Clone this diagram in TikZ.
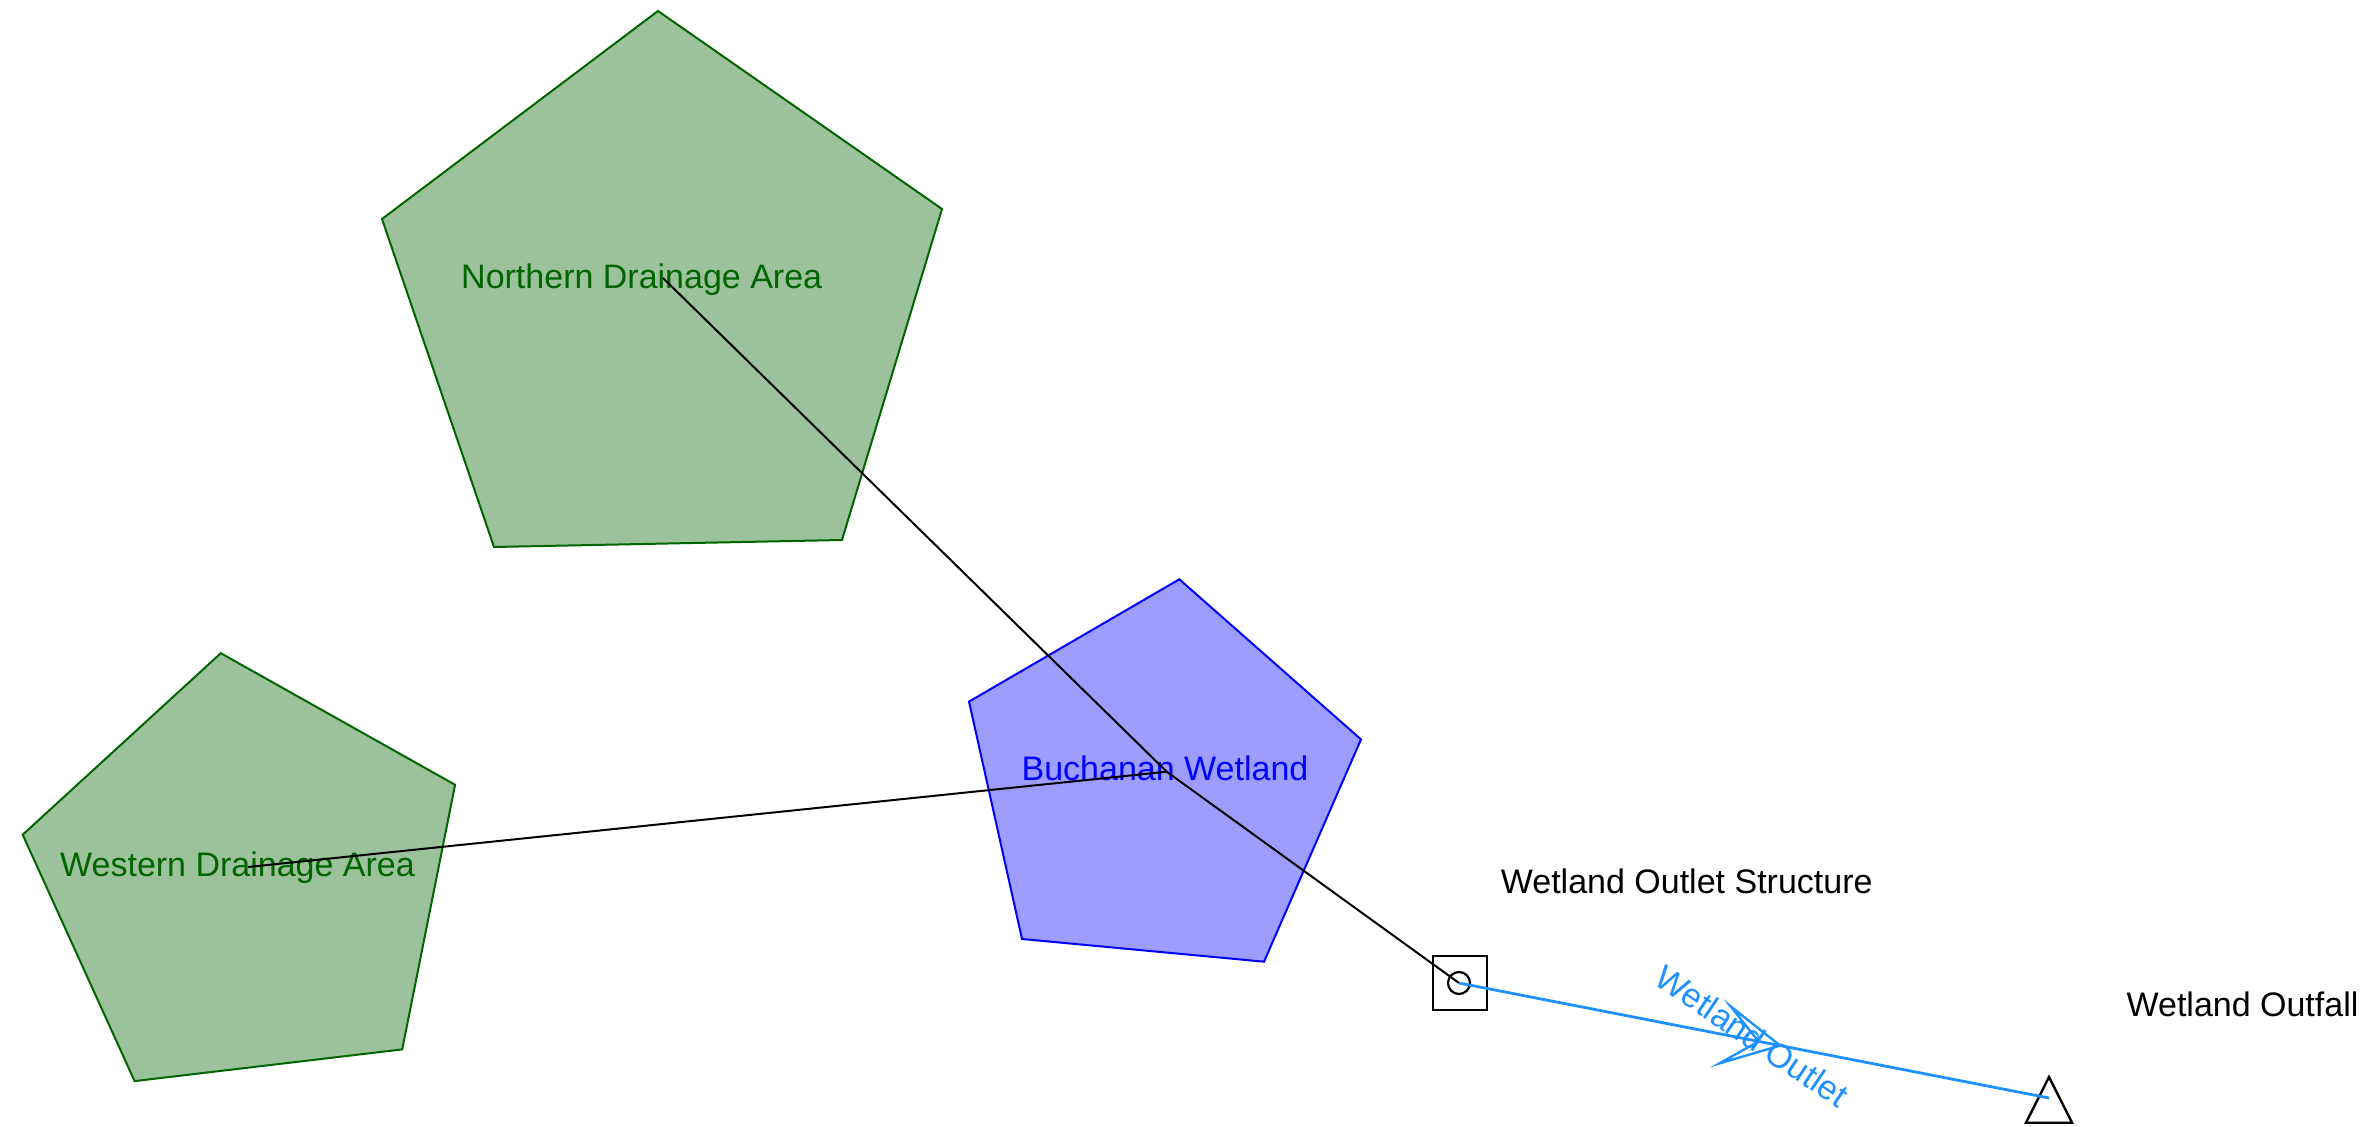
\documentclass[tikz,border=0pt]{standalone}
\usepackage{fontspec}
\setmainfont{Liberation Sans}
\usetikzlibrary{decorations.markings}
\definecolor{areafill}{RGB}{156,194,155}
\definecolor{arealine}{RGB}{0,100,0}
\definecolor{wetfill}{RGB}{157,157,255}
\definecolor{wetline}{RGB}{0,0,255}
\definecolor{linkcol}{RGB}{30,144,255}
\tikzset{
  area/.style={draw=arealine, fill=areafill, line width=1pt, line join=miter},
  wet/.style={draw=wetline, fill=wetfill, line width=1pt, line join=miter},
  lbl/.style={anchor=base, inner sep=0pt, font=\fontsize{17}{20}\selectfont},
  conn/.style={draw=black, line width=1pt},
  link/.style={draw=linkcol, line width=1.4pt, postaction={decorate},
    decoration={markings, mark=at position 0.5 with {
      \draw[linkcol, line width=1.2pt, line join=miter]
        (13.3pt,0) -- (-14.7pt,14.5pt) -- (2.3pt,0) -- (-14.7pt,-14.5pt) -- cycle;}}},
  sym/.style={draw=black, line width=1.2pt, inner sep=0pt},
}
\begin{document}
\begin{tikzpicture}[x=0.5pt, y=-0.5pt]
\useasboundingbox (0,0) rectangle (2371,1127);
% subcatchments
\draw[area] (658,11) -- (942,209) -- (842,540) -- (494,547) -- (382,219) -- cycle;
\draw[area] (220.8,653.2) -- (455.1,784.8) -- (402.2,1049.4) -- (134.6,1081.1) -- (22.7,834.7) -- cycle;
\draw[wet] (1179.3,579.3) -- (1361,739.4) -- (1264,961.7) -- (1022,939) -- (969,701.6) -- cycle;
% labels
\node[lbl, text=arealine] (nlab) at (641.7,288.3) {Northern Drainage Area};
\node[lbl, text=arealine] (wlab) at (237.5,876.7) {Western Drainage Area};
\node[lbl, text=wetline] (blab) at (1165,780) {Buchanan Wetland};
\node[lbl] (slab) at (1686.7,893) {Wetland Outlet Structure};
\node[lbl] (olab) at (2242.5,1016.7) {Wetland Outfall};
% centroids
\coordinate (ncen) at (663,278);
\coordinate (wcen) at (248,867);
\coordinate (bcen) at (1166.7,771.7);
% outlet structure and outfall
\node[sym, minimum size=27pt] (ows) at (1460,983) {};
\node[sym, circle, minimum size=11pt, line width=1.1pt] (owc) at (1459,983) {};
\draw[sym] (2049,1077) -- (2072,1122.7) -- (2026,1122.7) -- cycle;
\coordinate (fall) at (2049,1098);
% connectors
\draw[conn] (ncen) -- (bcen);
\draw[conn] (wcen) -- (bcen);
\draw[conn] (bcen) -- (owc.center);
\draw[link] (owc.center) -- (fall);
\node[text=linkcol, inner sep=0pt, rotate=-34, font=\fontsize{17}{20}\selectfont] (llab) at (1752,1036) {Wetland Outlet};
\end{tikzpicture}
\end{document}
